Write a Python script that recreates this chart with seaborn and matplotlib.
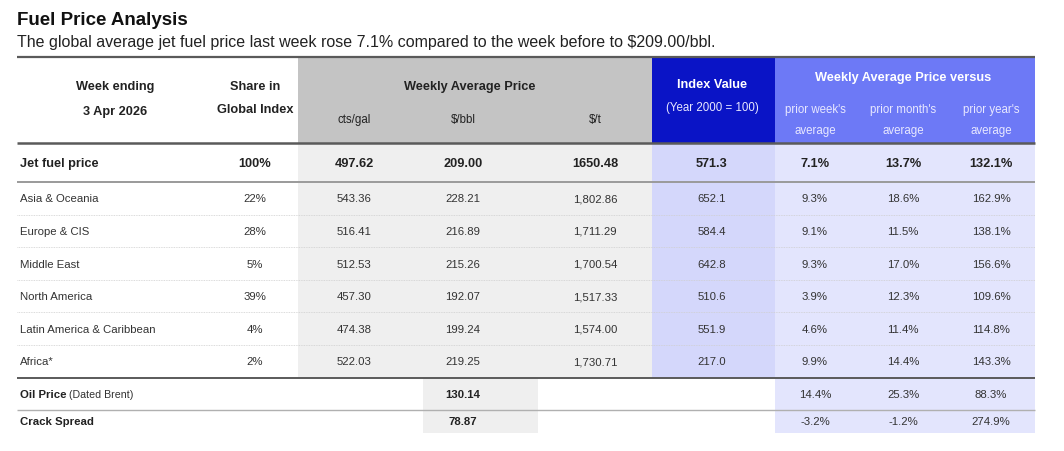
import matplotlib
matplotlib.use("Agg")
import matplotlib.pyplot as plt
from matplotlib.patches import Rectangle
import seaborn as sns

regions = ["Jet fuel price", "Asia & Oceania", "Europe & CIS", "Middle East",
           "North America", "Latin America & Caribbean", "Africa*"]
share = ["100%", "22%", "28%", "5%", "39%", "4%", "2%"]
cts_gal = [497.62, 543.36, 516.41, 512.53, 457.30, 474.38, 522.03]
usd_bbl = [209.00, 228.21, 216.89, 215.26, 192.07, 199.24, 219.25]
usd_t = [1650.48, 1802.86, 1711.29, 1700.54, 1517.33, 1574.00, 1730.71]
index_val = [571.3, 652.1, 584.4, 642.8, 510.6, 551.9, 217.0]
vs_week = [7.1, 9.3, 9.1, 9.3, 3.9, 4.6, 9.9]
vs_month = [13.7, 18.6, 11.5, 17.0, 12.3, 11.4, 14.4]
vs_year = [132.1, 162.9, 138.1, 156.6, 109.6, 114.8, 143.3]

extra_rows = ["Oil Price", "Crack Spread"]
extra_sub = ["(Dated Brent)", ""]
extra_bbl = [130.14, 78.87]
extra_week = [14.4, -3.2]
extra_month = [25.3, -1.2]
extra_year = [88.3, 274.9]

title = "Fuel Price Analysis"
subtitle = ("The global average jet fuel price last week rose 7.1% compared "
            "to the week before to $209.00/bbl.")

sns.set_theme(style="white")
plt.rcParams["font.family"] = ["Liberation Sans", "DejaVu Sans"]

GRAY_HEAD = "#c4c4c4"
GRAY_BODY = "#efefef"
IDX_HEAD = "#0a14c6"
IDX_BODY = "#d4d7fb"
VS_HEAD = "#6d79f6"
VS_BODY = "#e3e5fd"
TXT = "#222222"

HEAD_FS = 9.2
SUB_FS = 8.3
BODY_FS = 8.2

fig = plt.figure(figsize=(10.64, 4.51), dpi=100)
ax = fig.add_axes([0, 0, 1, 1])
ax.set_xlim(0, 1064)
ax.set_ylim(451, 0)
ax.axis("off")


def put(x, y, s, fs, ref_fs=None, **kw):
    # y is the visual middle of the capitals; place on the baseline so
    # commas and descenders don't shift the text
    ref_fs = ref_fs or fs
    return ax.text(x, y + ref_fs * 100 / 72 * 0.36, s, fontsize=fs, va="baseline", **kw)


# layout (pixels)
left, right = 17, 1035
x_gray0, x_idx0, x_vs0 = 298, 652, 775
x_bbl0, x_bbl1 = 423, 538
y_top, y_head = 57, 143
row_h = 32.6
y_jet_end = 182
y_body_end = y_jet_end + 6 * row_h
y_oil_end = y_body_end + 32
y_end = y_oil_end + 23

col_label = 20
col_share = 255
col_cts, col_bbl, col_t = 354, 463, 595
col_idx = 712
vs_cols = [815, 903, 991]

# backgrounds
ax.add_patch(Rectangle((x_gray0, y_top), x_idx0 - x_gray0, y_head - y_top, color=GRAY_HEAD, lw=0))
ax.add_patch(Rectangle((x_idx0, y_top), x_vs0 - x_idx0, y_head - y_top, color=IDX_HEAD, lw=0))
ax.add_patch(Rectangle((x_vs0, y_top), right - x_vs0, y_head - y_top, color=VS_HEAD, lw=0))
ax.add_patch(Rectangle((x_gray0, y_head), x_idx0 - x_gray0, y_body_end - y_head, color=GRAY_BODY, lw=0))
ax.add_patch(Rectangle((x_idx0, y_head), x_vs0 - x_idx0, y_body_end - y_head, color=IDX_BODY, lw=0))
ax.add_patch(Rectangle((x_vs0, y_head), right - x_vs0, y_end - y_head, color=VS_BODY, lw=0))
ax.add_patch(Rectangle((x_bbl0, y_body_end), x_bbl1 - x_bbl0, y_end - y_body_end, color=GRAY_BODY, lw=0))

# title
put(17, 18, title, 13.5, fontweight="bold", color="#111")
put(17, 41, subtitle, 11.5, color="#222")

# header
hb = dict(fontweight="bold", color=TXT, ha="center")
put(115, 85, "Week ending", HEAD_FS, **hb)
put(115, 110, "3 Apr 2026", HEAD_FS, **hb)
put(col_share, 85, "Share in", HEAD_FS, **hb)
put(col_share, 108, "Global Index", HEAD_FS, **hb)
put(470, 85, "Weekly Average Price", HEAD_FS, **hb)
for x, s in zip([col_cts, col_bbl, col_t], ["cts/gal", "$/bbl", "$/t"]):
    put(x, 119, s, SUB_FS, color=TXT, ha="center")
put(col_idx, 83, "Index Value", HEAD_FS, fontweight="bold", color="white", ha="center")
put(col_idx, 107, "(Year 2000 = 100)", SUB_FS, color="#e8e8ff", ha="center")
put(903, 76, "Weekly Average Price versus", HEAD_FS, fontweight="bold", color="white", ha="center")
for x, s in zip(vs_cols, ["prior week's", "prior month's", "prior year's"]):
    put(x, 109, s, SUB_FS, color="#e8e8ff", ha="center")
    put(x, 130, "average", SUB_FS, color="#e8e8ff", ha="center")

# body rows
for i, name in enumerate(regions):
    if i == 0:
        yc = (y_head + y_jet_end) / 2
        fs, kw = HEAD_FS, dict(fontweight="bold", color=TXT)
        t_fmt = f"{usd_t[i]:.2f}"
    else:
        yc = y_jet_end + (i - 0.5) * row_h
        fs, kw = BODY_FS, dict(color="#333")
        t_fmt = f"{usd_t[i]:,.2f}"
    put(col_label, yc, name, fs, ha="left", **kw)
    put(col_share, yc, share[i], fs, ha="center", **kw)
    put(col_cts, yc, f"{cts_gal[i]:.2f}", fs, ha="center", **kw)
    put(col_bbl, yc, f"{usd_bbl[i]:.2f}", fs, ha="center", **kw)
    put(col_t, yc, t_fmt, fs, ha="center", **kw)
    put(col_idx, yc, f"{index_val[i]:.1f}", fs, ha="center", **kw)
    for x, v in zip(vs_cols, [vs_week[i], vs_month[i], vs_year[i]]):
        put(x, yc, f"{v:.1f}%", fs, ha="center", **kw)

# oil price / crack spread rows
fig.canvas.draw()
renderer = fig.canvas.get_renderer()
for j, name in enumerate(extra_rows):
    y0 = y_body_end if j == 0 else y_oil_end
    y1 = y_oil_end if j == 0 else y_end
    yc = (y0 + y1) / 2
    t = put(col_label, yc, name, BODY_FS, fontweight="bold", color=TXT)
    if extra_sub[j]:
        bb = t.get_window_extent(renderer=renderer)
        x_end = ax.transData.inverted().transform((bb.x1, bb.y0))[0]
        put(x_end + 2.5, yc, extra_sub[j], BODY_FS - 0.5, ref_fs=BODY_FS, color="#333")
    put(col_bbl, yc, f"{extra_bbl[j]:.2f}", BODY_FS, fontweight="bold", color=TXT, ha="center")
    for x, v in zip(vs_cols, [extra_week[j], extra_month[j], extra_year[j]]):
        put(x, yc, f"{v:.1f}%", BODY_FS, color="#333", ha="center")

# rules
ax.plot([left, right], [y_top, y_top], color="#5a5a5a", lw=1.6, solid_capstyle="butt")
ax.plot([left, right], [y_head, y_head], color="#5a5a5a", lw=1.8, solid_capstyle="butt")
ax.plot([left, right], [y_jet_end, y_jet_end], color="#9a9a9a", lw=1.4, solid_capstyle="butt")
for k in range(1, 6):
    y = y_jet_end + k * row_h
    ax.plot([left, right], [y, y], color="#cfcfcf", lw=0.6, ls=(0, (1, 1)))
ax.plot([left, right], [y_body_end, y_body_end], color="#5a5a5a", lw=1.4, solid_capstyle="butt")
ax.plot([left, right], [y_oil_end, y_oil_end], color="#b0b0b0", lw=1.0, solid_capstyle="butt")

fig.savefig("out.png", dpi=100, facecolor="white")
